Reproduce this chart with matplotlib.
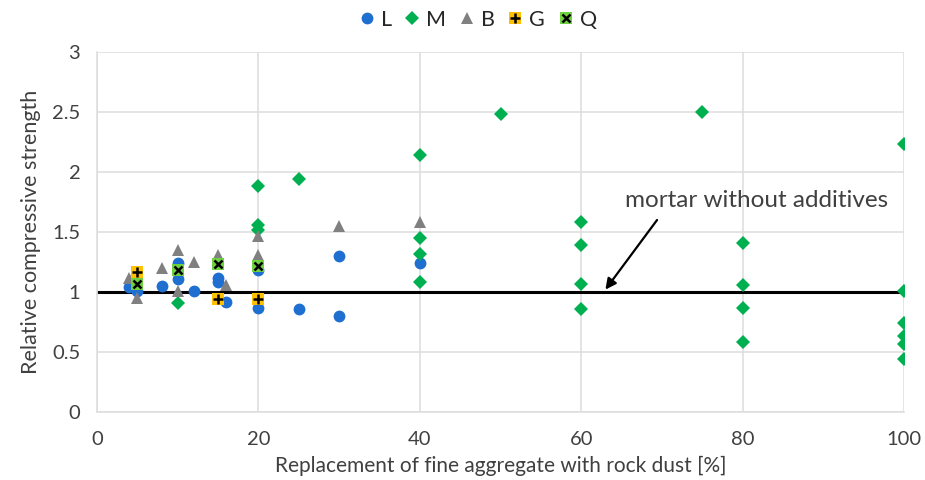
import matplotlib
matplotlib.use("Agg")
import matplotlib.pyplot as plt
from matplotlib.lines import Line2D

plt.rcParams['font.family'] = ['Lato', 'DejaVu Sans']

# Data
L_x = [4, 5, 8, 10, 10, 12, 15, 15, 16, 20, 20, 25, 30, 30, 40]
L_y = [1.04, 1.01, 1.05, 1.24, 1.11, 1.01, 1.12, 1.08, 0.92, 1.18, 0.87, 0.86, 1.30, 0.80, 1.24]

M_x = [10, 20, 20, 20, 25, 40, 40, 40, 40, 50, 60, 60, 60, 60, 75, 80, 80, 80, 80,
       100, 100, 100, 100, 100, 100]
M_y = [0.91, 1.88, 1.56, 1.52, 1.94, 2.14, 1.45, 1.32, 1.08, 2.48, 1.58, 1.39, 1.07, 0.86,
       2.50, 1.41, 1.06, 0.87, 0.58, 2.23, 1.01, 0.74, 0.63, 0.57, 0.44]

B_x = [4, 5, 8, 10, 10, 12, 15, 16, 20, 20, 30, 40]
B_y = [1.12, 0.95, 1.20, 1.35, 1.01, 1.25, 1.31, 1.06, 1.47, 1.31, 1.55, 1.58]

G_x = [5, 15, 20]
G_y = [1.17, 0.94, 0.94]

Q_x = [5, 10, 15, 20]
Q_y = [1.07, 1.18, 1.23, 1.22]

ref_x = [0, 100]
ref_y = [1, 1]

x_ticks = [0, 20, 40, 60, 80, 100]
y_ticks = [0, 0.5, 1, 1.5, 2, 2.5, 3]
y_tick_labels = ['0', '0.5', '1', '1.5', '2', '2.5', '3']

c_L = '#1F6FD1'
c_M = '#00B050'
c_B = '#808080'
c_G = '#FFC000'
c_Q = '#6FD040'
grid_c = '#DDDDDD'
text_c = '#404040'

fig = plt.figure(figsize=(9.25, 4.8), dpi=100)
ax = fig.add_axes([97/925, 1-412/480, (904-97)/925, (412-52)/480])

ax.plot(ref_x, ref_y, color='black', lw=2.2, zorder=2, solid_capstyle='butt')

ax.plot(L_x, L_y, 'o', color=c_L, ms=8.5, mew=0, zorder=3)
ax.plot(M_x, M_y, 'D', color=c_M, ms=6.8, mew=0, zorder=4)
ax.plot(B_x, B_y, '^', color=c_B, ms=9, mew=0, zorder=5)
ax.plot(G_x, G_y, 's', color=c_G, ms=9, mew=0, zorder=6)
ax.plot(G_x, G_y, '+', color='black', ms=7, mew=1.8, zorder=7)
ax.plot(Q_x, Q_y, 's', color=c_Q, ms=9, mew=0, zorder=8)
ax.plot(Q_x, Q_y, 'x', color='black', ms=6, mew=1.8, zorder=9)

ax.set_xlim(0, 100)
ax.set_ylim(0, 3)
ax.set_xticks(x_ticks)
ax.set_yticks(y_ticks)
ax.set_yticklabels(y_tick_labels)
ax.grid(True, color=grid_c, lw=1.1, zorder=0)
ax.set_axisbelow(True)
for s in ['top', 'right']:
    ax.spines[s].set_visible(False)
for s in ['left', 'bottom']:
    ax.spines[s].set_color(grid_c)
    ax.spines[s].set_linewidth(1.1)
ax.tick_params(axis='both', length=0, labelsize=14.5, colors=text_c, pad=12)
ax.tick_params(axis='x', pad=14)

ax.set_xlabel('Replacement of fine aggregate with rock dust [%]', fontsize=15,
              color=text_c, labelpad=5)
ax.set_ylabel('Relative compressive strength', fontsize=15.5, color=text_c, labelpad=8)

ax.text(81.7, 1.76, 'mortar without additives', fontsize=17.5, color=text_c,
        ha='center', va='center')
ax.annotate('', xy=(63, 1.02), xytext=(69.4, 1.60),
            arrowprops=dict(arrowstyle='-|>', color='black', lw=1.6,
                            mutation_scale=16, shrinkA=0, shrinkB=0))

h_L = Line2D([], [], marker='o', color=c_L, ls='', ms=8.5, mew=0)
h_M = Line2D([], [], marker='D', color=c_M, ls='', ms=6.8, mew=0)
h_B = Line2D([], [], marker='^', color=c_B, ls='', ms=9, mew=0)
h_G = (Line2D([], [], marker='s', color=c_G, ls='', ms=9, mew=0),
       Line2D([], [], marker='+', color='black', ls='', ms=7, mew=1.8))
h_Q = (Line2D([], [], marker='s', color=c_Q, ls='', ms=9, mew=0),
       Line2D([], [], marker='x', color='black', ls='', ms=6, mew=1.8))
fig.legend([h_L, h_M, h_B, h_G, h_Q], ['L', 'M', 'B', 'G', 'Q'],
           loc='center', bbox_to_anchor=(478/925, 1-20/480), ncol=5, frameon=False,
           fontsize=15.5, handlelength=0.7, handletextpad=0.3, columnspacing=0.6,
           labelcolor='#262626')

fig.savefig('out.png', dpi=100)
